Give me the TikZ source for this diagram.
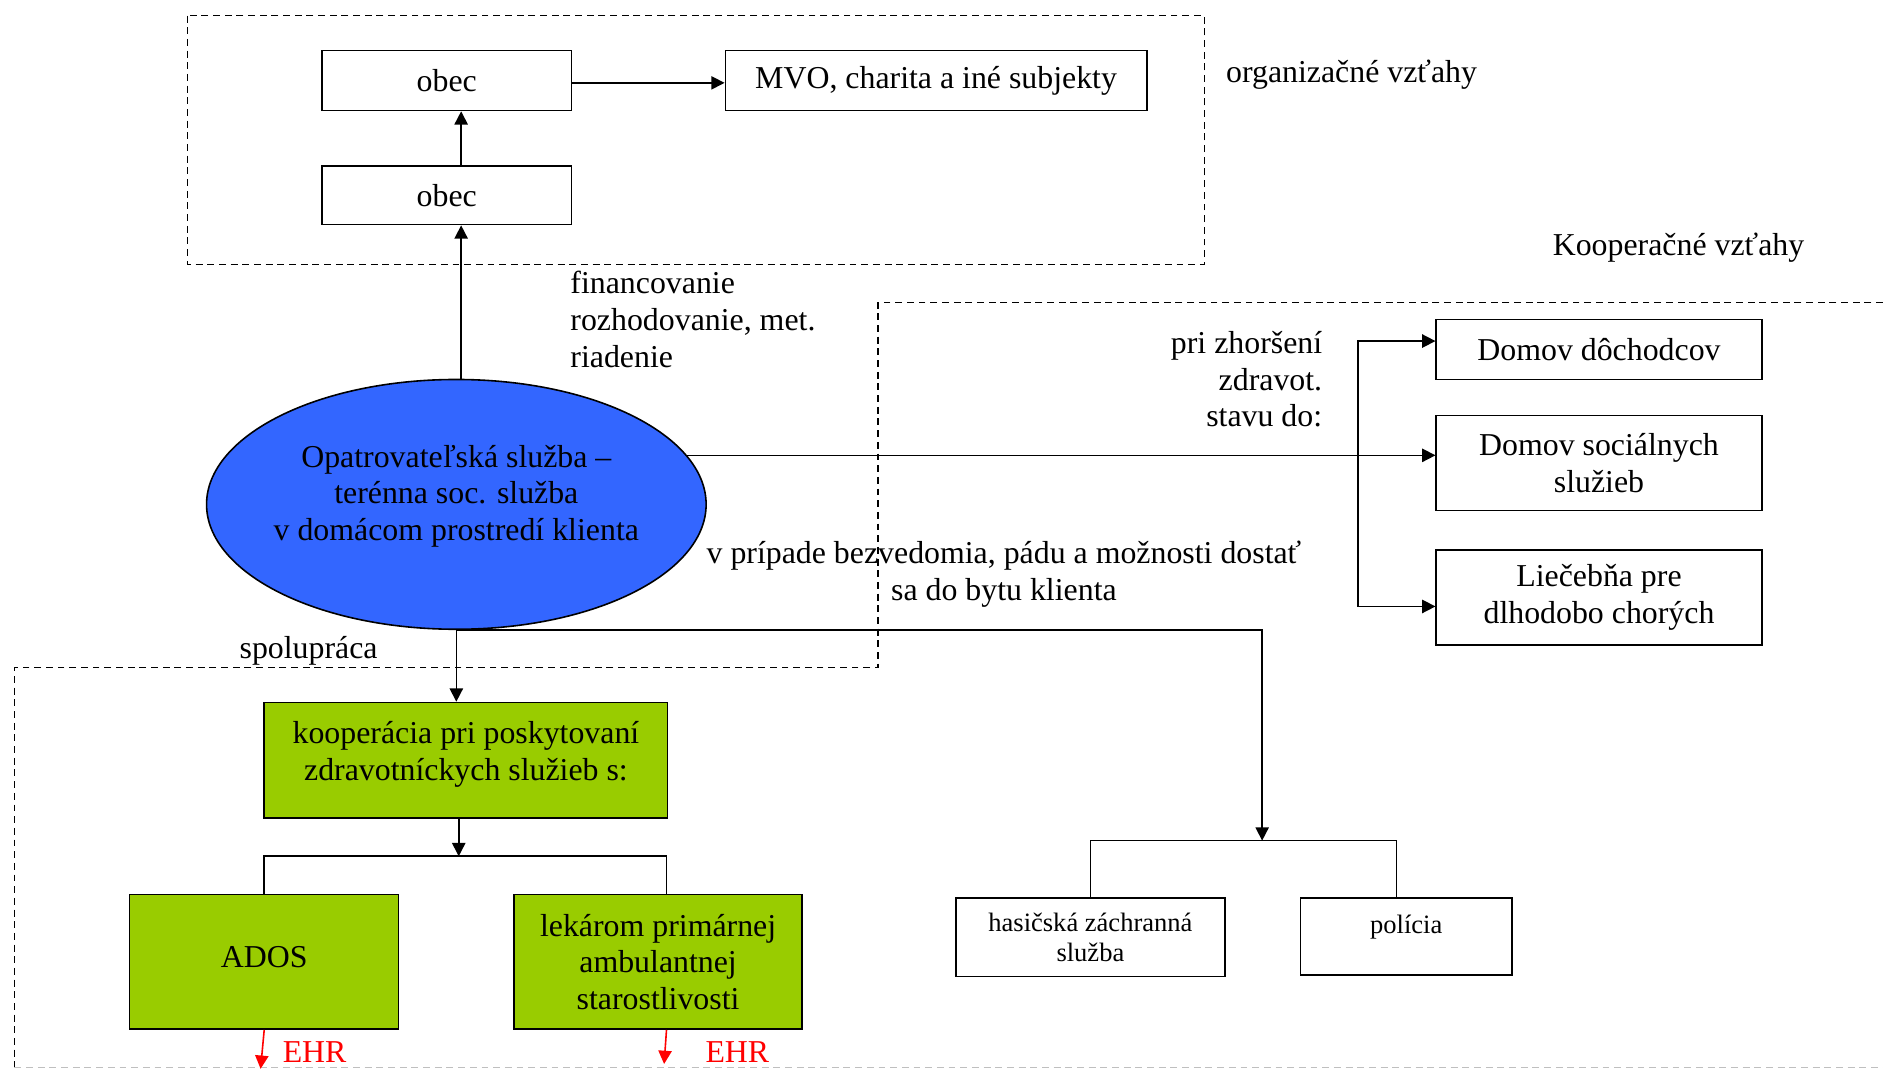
\documentclass[tikz,border=0pt]{standalone}
\usepackage{fontspec}
\setmainfont{Liberation Serif}
\usetikzlibrary{shapes.geometric, arrows.meta}
\definecolor{osblue}{RGB}{51,102,255}
\definecolor{kgreen}{RGB}{153,204,0}
\newdimen\unitpx
\unitpx=0.4525pt

\begin{document}
\begin{tikzpicture}[x=\unitpx, y=-\unitpx, line width=0.6pt,
  font=\fontsize{12}{13.8}\selectfont,
  box/.style={draw, align=center, inner sep=1pt},
  greenbox/.style={box, fill=kgreen},
  small/.style={font=\fontsize{10}{11.3}\selectfont},
  arr/.style={-{Triangle[length=5pt,width=5pt]}},
  zone/.style={dash pattern=on 2.6pt off 1.8pt, line width=0.5pt}]
\useasboundingbox (0,0) rectangle (1568,892);

% Zones
\draw[zone] (156,13) rectangle (1003,220);
\draw[zone] (1568,252) -- (731,252) -- (731,556) -- (12,556) -- (12,889);
\draw[zone, gray!50] (12,889) -- (1568,889);
\node[anchor=west] (orgtitle) at (1013,62) {organizačné vzťahy};
\node[anchor=west] (kooptitle) at (1285,206) {Kooperačné vzťahy};

% Organisation
\node[box, minimum width=208\unitpx, minimum height=50\unitpx] (obecA) at (372,67) {obec};
\node[box, minimum width=351\unitpx, minimum height=50\unitpx] (mvo) at (779.5,67) {MVO, charita a iné subjekty};
\node[box, minimum width=208\unitpx, minimum height=49\unitpx] (obecB) at (372,162.5) {obec};

% Service
\node[ellipse, draw, fill=osblue, minimum width=416\unitpx, minimum height=208\unitpx, inner sep=0pt] (opat) at (380,420) {};
\node[align=center] (opattxt) at (380,413) {Opatrovateľská služba --\\terénna soc. služba\\v domácom prostredí klienta};
\node[anchor=west, align=left] (financ) at (467,266) {financovanie\\rozhodovanie, met.\\riadenie};

% Facilities
\node[box, minimum width=271\unitpx, minimum height=50\unitpx] (dd) at (1331.5,291) {Domov dôchodcov};
\node[box, minimum width=271\unitpx, minimum height=79\unitpx] (dss) at (1331.5,385.5) {Domov sociálnych\\služieb};
\node[box, minimum width=271\unitpx, minimum height=79\unitpx] (lp) at (1331.5,497.5) {Liečebňa pre\\dlhodobo chorých};
\node[anchor=east, align=right] (zhorsenie) at (1109,316) {pri zhoršení\\zdravot.\\stavu do:};

% Emergency
\node[align=center] (pripad) at (836,478) {v prípade bezvedomia, pádu a možnosti dostať\\sa do bytu klienta};
\node[box, small, minimum width=224\unitpx, minimum height=65\unitpx] (hzs) at (908,780.5) {hasičská záchranná\\služba};
\node[box, minimum width=176\unitpx, minimum height=64\unitpx] (pol) at (1171,780) {};
\node[small] (poltxt) at (1171,772) {polícia};

% Health care
\node (spolu) at (257,542) {spolupráca};
\node[greenbox, minimum width=336\unitpx, minimum height=96\unitpx] (koop) at (388,633) {};
\node[align=center] (kooptxt) at (388,628) {kooperácia pri poskytovaní\\zdravotníckych služieb s:};
\node[greenbox, minimum width=224\unitpx, minimum height=112\unitpx] (ados) at (220,801) {};
\node (adostxt) at (220,797) {ADOS};
\node[greenbox, minimum width=240\unitpx, minimum height=112\unitpx] (lek) at (548,801) {lekárom primárnej\\ambulantnej\\starostlivosti};
\node[red] (ehrA) at (262,876) {EHR};
\node[red] (ehrB) at (614,876) {EHR};

% Helper points
\coordinate (dsplit1) at (1131,284);
\coordinate (dsplit2) at (1131,505);
\coordinate (emerg) at (1051,700);
\coordinate (koopsplit) at (382,713);
\coordinate (ehrendA) at (217,890);
\coordinate (ehrendB) at (553,886);

% Connectors
\draw[arr] ([xshift=4\unitpx]opat.north) -- ([xshift=12\unitpx]obecB.south);
\draw[arr] ([xshift=12\unitpx]obecB.north) -- ([xshift=12\unitpx]obecA.south);
\draw[arr] ([yshift=-2\unitpx]obecA.east) -- ([yshift=-2\unitpx]obecA.east -| mvo.west);
\draw[arr] (opat.12) -- (opat.12 -| dss.west);
\draw[{Triangle[length=5pt,width=5pt]}-{Triangle[length=5pt,width=5pt]}] (dsplit1 -| dd.west) -- (dsplit1) -- (dsplit2) -- (dsplit2 -| lp.west);
\draw[arr] (opat.south) -| (emerg);
\draw (hzs.north) |- (emerg) -| ([xshift=-8\unitpx]pol.north);
\draw[arr] (opat.south) -- (opat.south |- koop.north);
\draw[arr] (koop.south -| koopsplit) -- (koopsplit);
\draw (ados.north) |- (koopsplit) -| ([xshift=7\unitpx]lek.north);
\draw[arr, red] (ados.south) -- (ehrendA);
\draw[arr, red] ([xshift=7\unitpx]lek.south) -- (ehrendB);
\end{tikzpicture}
\end{document}
